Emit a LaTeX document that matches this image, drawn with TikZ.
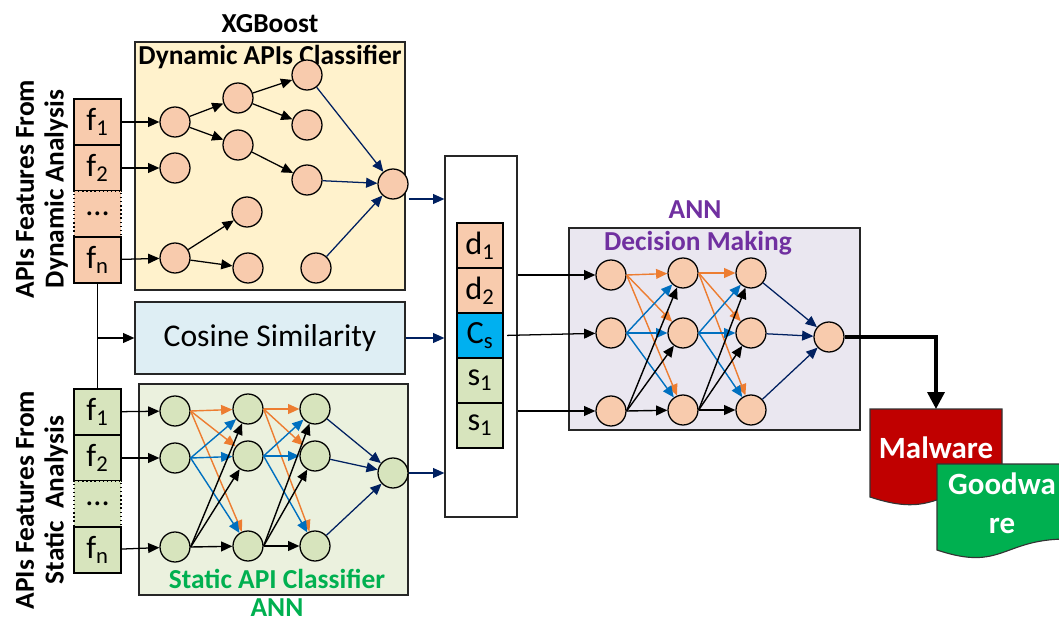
\documentclass[tikz,border=0pt]{standalone}
\usepackage{fontspec}
\setmainfont{Carlito}
\usetikzlibrary{arrows.meta, positioning, calc}
\definecolor{peach}{HTML}{F8CBAD}
\definecolor{dynbg}{HTML}{FFF2CC}
\definecolor{sage}{HTML}{D7E4BD}
\definecolor{statbg}{HTML}{EBF1DE}
\definecolor{cosbg}{HTML}{DEEEF4}
\definecolor{decbg}{HTML}{EAE7F0}
\definecolor{navyline}{HTML}{002060}
\definecolor{orngline}{HTML}{ED7D31}
\definecolor{bluline}{HTML}{0070C0}
\definecolor{cyanbox}{HTML}{00B0F0}
\definecolor{annpurple}{HTML}{7030A0}
\definecolor{anngreen}{HTML}{00B050}
\definecolor{malred}{HTML}{C00000}
\newcommand{\Px}{0.025cm}
\newcommand{\Sub}[1]{\textsubscript{#1}}
\tikzset{
    neuron/.style={circle, draw, line width=0.9pt, minimum size=30*\Px, inner sep=0pt},
    dneuron/.style={neuron, fill=peach},
    sneuron/.style={neuron, fill=sage},
    cell/.style={draw, line width=0.9pt, minimum width=47*\Px, minimum height=46*\Px,
        inner sep=0pt, outer sep=0pt, font=\fontsize{23}{24}\selectfont},
    panel/.style={draw=black!85, line width=0.9pt, inner sep=0pt},
    heading/.style={font=\fontsize{19.5}{21}\selectfont\bfseries},
    bk/.style={-{Triangle[length=8pt, width=7pt]}, line width=0.9pt},
    nv/.style={bk, navyline},
    og/.style={-{Triangle[length=8pt, width=7pt]}, line width=1pt, orngline},
    bu/.style={og, bluline},
    kk/.style={og, black},
    doctext/.style={text=white, font=\fontsize{22}{28}\selectfont\bfseries, align=center},
}
\begin{document}
\begin{tikzpicture}[x=0.025cm, y=-0.025cm]
    \useasboundingbox (0,0) rectangle (1059,623);

    % panels
    \node[panel, fill=dynbg, minimum width=270*\Px, minimum height=248*\Px] (dynbox) at (270,166) {};
    \node[panel, fill=cosbg, minimum width=270*\Px, minimum height=72*\Px,
        font=\fontsize{22.5}{26}\selectfont] (cos) at (270,338) {Cosine Similarity};
    \node[panel, fill=statbg, minimum width=269*\Px, minimum height=211*\Px] (statbox) at (273.5,489.5) {};
    \node[panel, minimum width=72*\Px, minimum height=361*\Px] (midbox) at (481,336.5) {};
    \node[panel, fill=decbg, minimum width=291*\Px, minimum height=202*\Px] (decbox) at (714.5,329) {};

    \node[heading] (xgb) at (270,24) {XGBoost};
    \node[heading] (dyntitle) at (270,57) {Dynamic APIs Classifier};
    \node[heading, text=anngreen] (stattitle) at (277,579) {Static API Classifier};
    \node[heading, text=anngreen] (statann) at (277,608) {ANN};
    \node[heading, text=annpurple] (decann) at (695,210) {ANN};
    \node[heading, text=annpurple] (dectitle) at (698,243) {Decision Making};

    \node[heading, rotate=90, align=center] (dynside) at (42,189) {APIs Features From\\Dynamic Analysis};
    \node[heading, rotate=90, align=center] (statside) at (42,500) {APIs Features From\\Static\ \ Analysis};

    % dynamic features
    \node[cell, fill=peach] (df1) at (97.5,122) {f\Sub{1}};
    \node[cell, fill=peach, below=0pt of df1] (df2) {f\Sub{2}};
    \node[cell, fill=peach, dotted, below=0pt of df2] (ddots) {...};
    \node[cell, fill=peach, below=0pt of ddots] (dfn) {f\Sub{n}};

    % static features
    \node[cell, fill=sage] (sf1) at (97.5,412) {f\Sub{1}};
    \node[cell, fill=sage, below=0pt of sf1] (sf2) {f\Sub{2}};
    \node[cell, fill=sage, dotted, below=0pt of sf2] (sdots) {...};
    \node[cell, fill=sage, below=0pt of sdots] (sfn) {f\Sub{n}};

    % combined vector
    \node[cell, fill=peach, minimum width=46*\Px, minimum height=45*\Px] (d1) at (480,245.5) {d\Sub{1}};
    \node[cell, fill=peach, minimum width=46*\Px, minimum height=45*\Px, below=0pt of d1] (d2) {d\Sub{2}};
    \node[cell, fill=cyanbox, minimum width=46*\Px, minimum height=45*\Px, below=0pt of d2] (cs) {C\Sub{s}};
    \node[cell, fill=sage, minimum width=46*\Px, minimum height=45*\Px, below=0pt of cs] (s1a) {s\Sub{1}};
    \node[cell, fill=sage, minimum width=46*\Px, minimum height=45*\Px, below=0pt of s1a] (s1b) {s\Sub{1}};

    % XGBoost trees
    \node[dneuron] (a1) at (175,122) {};
    \node[dneuron] (a2) at (175,168) {};
    \node[dneuron] (a3) at (175,258) {};
    \node[dneuron] (b1) at (238,98) {};
    \node[dneuron] (b2) at (238,145) {};
    \node[dneuron] (b3) at (247,212) {};
    \node[dneuron] (b4) at (248,268) {};
    \node[dneuron] (c1) at (307,75) {};
    \node[dneuron] (c2) at (307,125) {};
    \node[dneuron] (c3) at (307,180) {};
    \node[dneuron] (c4) at (316,268) {};
    \node[dneuron] (dout) at (393,184) {};

    \draw (df1) edge[bk] (a1);
    \draw (df2) edge[bk] (a2);
    \draw (dfn) edge[bk] (a3);
    \draw (a1) edge[bk] (b1) edge[bk] (b2);
    \draw (b1) edge[bk] (c1) edge[bk] (c2);
    \draw (b2) edge[bk] (c3);
    \draw (a3) edge[bk] (b3) edge[bk] (b4);
    \draw (c1) edge[nv] (dout);
    \draw (c3) edge[nv] (dout);
    \draw (c4) edge[nv] (dout);

    % static ANN
    \node[sneuron] (s11) at (175,411) {};
    \node[sneuron] (s12) at (175,458) {};
    \node[sneuron] (s13) at (175,547) {};
    \node[sneuron] (s21) at (248,409) {};
    \node[sneuron] (s22) at (248,456) {};
    \node[sneuron] (s23) at (248,546) {};
    \node[sneuron] (s31) at (315,409) {};
    \node[sneuron] (s32) at (315,456) {};
    \node[sneuron] (s33) at (315,546) {};
    \node[sneuron] (sout) at (393,473) {};

    \draw (sf1) edge[bk] (s11);
    \draw (sf2) edge[bk] (s12);
    \draw (sfn) edge[bk] (s13);
    \draw (s11.east) edge[og] (s21) edge[og] (s22) edge[og] (s23);
    \draw (s12.east) edge[bu] (s21) edge[bu] (s22) edge[bu] (s23);
    \draw (s13.east) edge[kk] (s21) edge[kk] (s22) edge[kk] (s23);
    \draw (s21.east) edge[og] (s31) edge[og] (s32) edge[og] (s33);
    \draw (s22.east) edge[bu] (s31) edge[bu] (s32) edge[bu] (s33);
    \draw (s23.east) edge[kk] (s31) edge[kk] (s32) edge[kk] (s33);
    \draw (s31) edge[nv] (sout);
    \draw (s32) edge[nv] (sout);
    \draw (s33) edge[nv] (sout);

    % decision ANN
    \node[dneuron] (m11) at (611,275) {};
    \node[dneuron] (m12) at (611,333) {};
    \node[dneuron] (m13) at (611,411) {};
    \node[dneuron] (m21) at (683,273) {};
    \node[dneuron] (m22) at (683,333) {};
    \node[dneuron] (m23) at (683,410) {};
    \node[dneuron] (m31) at (751,273) {};
    \node[dneuron] (m32) at (751,333) {};
    \node[dneuron] (m33) at (751,410) {};
    \node[dneuron] (mout) at (829,337) {};

    \draw (m11.east) edge[og] (m21) edge[og] (m22) edge[og] (m23);
    \draw (m12.east) edge[bu] (m21) edge[bu] (m22) edge[bu] (m23);
    \draw (m13.east) edge[kk] (m21) edge[kk] (m22) edge[kk] (m23);
    \draw (m21.east) edge[og] (m31) edge[og] (m32) edge[og] (m33);
    \draw (m22.east) edge[bu] (m31) edge[bu] (m32) edge[bu] (m33);
    \draw (m23.east) edge[kk] (m31) edge[kk] (m32) edge[kk] (m33);
    \draw (m31) edge[nv] (mout);
    \draw (m32) edge[nv] (mout);
    \draw (m33) edge[nv] (mout);

    % links between the parts
    \draw[line width=0.9pt] (dfn.south) -- (sf1.north);
    \draw[bk] (dfn.south |- cos.west) -- (cos.west);
    \draw[nv] ($(dout.east)+(0,15)$) -- (midbox.west |- 0,199);
    \draw[nv] (cos.east) -- (midbox.west |- cos.east);
    \draw[nv] (sout.east) -- (midbox.west |- sout.east);
    \draw[bk] (midbox.east |- m11) -- (m11);
    \draw[bk, shorten <=4*\Px] (cs.east) -- (m12);
    \draw[bk] (midbox.east |- m13) -- (m13);

    % outcome documents
    \fill[malred, draw=black!80, line width=0.8pt] (870,409) -- (1002,409) -- (1002,487)
        .. controls (936,487) and (936,519) .. (870,497) -- cycle;
    \fill[anngreen, draw=black!80, line width=0.8pt] (937,464) -- (1067,464) -- (1067,539)
        .. controls (1002,539) and (1002,572) .. (937,550) -- cycle;
    \coordinate (maltop) at (936,409);
    \node[doctext] (malware) at (936,448) {Malware};
    \node[doctext] (goodware) at (1002,503) {Goodwa\\re};
    \draw[line width=2.5pt, -{Triangle[length=12pt, width=12pt]}] (mout.east) -| (maltop);
\end{tikzpicture}
\end{document}
